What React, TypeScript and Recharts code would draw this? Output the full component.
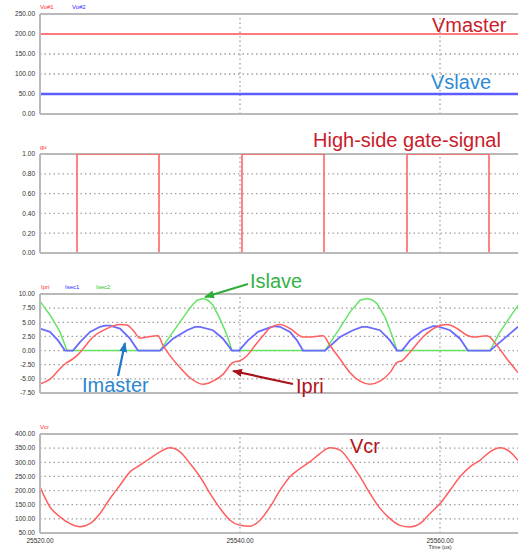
import React from 'react';
import { LineChart, Line, XAxis, YAxis, ReferenceLine } from 'recharts';

// ---------- shared time axis ----------
const timeDomain: [number, number] = [25520, 25567.8];
const timeTicks = [25520, 25540, 25560];
const timeGrid = [25540, 25560];

// ---------- panel 1: output voltages ----------
const voltTicks = [0, 50, 100, 150, 200, 250];
const vmasterT = [25520, 25567.8];
const vmasterV = [200, 200];
const vslaveT = [25520, 25567.8];
const vslaveV = [50, 50];

// ---------- panel 2: high-side gate signal ----------
const gateTicks = [0, 0.2, 0.4, 0.6, 0.8, 1.0];
const gateT = [25520, 25523.7, 25523.7, 25531.9, 25531.9, 25540.2, 25540.2, 25548.4, 25548.4, 25556.7, 25556.7, 25564.9, 25564.9, 25567.8];
const gateV = [0, 0, 1, 1, 0, 0, 1, 1, 0, 0, 1, 1, 0, 0];

// ---------- panel 3: currents ----------
const currentTicks = [-7.5, -5, -2.5, 0, 2.5, 5, 7.5, 10];
const ipriT = [25520, 25521, 25522, 25522.7, 25523, 25523.7, 25524.3, 25525.3, 25526.7, 25528, 25528.7, 25529.3, 25530, 25530.7, 25531.8, 25532.3, 25533, 25534, 25535, 25536.3, 25537.3, 25538.3, 25539.3, 25540, 25540.7, 25541.5, 25542.3, 25543, 25544, 25545, 25546.3, 25546.8, 25548.3, 25549, 25550, 25551, 25552, 25553, 25554, 25555, 25555.7, 25556.2, 25557, 25558.3, 25559.7, 25560.7, 25561.7, 25562.7, 25563.3, 25564.7, 25565.7, 25566.7, 25567.8];
const ipriV = [-5.9, -5.05, -3.2, -2.1, -1.8, -0.9, 0.3, 2.4, 3.9, 4.6, 4.5, 3.6, 2.2, 2.4, 2.6, 0.9, -0.9, -3.0, -4.8, -5.95, -5.4, -4.2, -2.1, -1.8, -0.9, 0.9, 2.6, 4.0, 4.6, 3.9, 2.4, 2.4, 2.6, 0.9, -1.5, -3.9, -5.4, -5.95, -5.4, -3.9, -2.1, -1.8, -0.3, 2.4, 4.2, 4.6, 3.9, 2.7, 2.4, 2.6, 0.9, -1.5, -3.9];
const isec1T = [25520, 25521, 25521.8, 25522.5, 25523.3, 25524, 25525, 25526, 25526.5, 25527, 25528, 25529, 25529.8, 25532, 25533.3, 25534.7, 25535.5, 25536, 25537.3, 25538.3, 25539.2, 25539.9, 25540.8, 25541.8, 25543, 25543.5, 25544, 25545, 25545.7, 25546.3, 25548.5, 25550, 25551.3, 25552.2, 25552.7, 25554, 25555, 25555.7, 25556.2, 25557, 25558.3, 25559.3, 25559.7, 25561, 25562, 25562.8, 25565, 25566, 25567, 25567.8];
const isec1V = [3.9, 3.3, 1.8, 0, 0, 1.5, 3.3, 4.2, 4.4, 4.4, 3.9, 2.1, 0, 0, 2.1, 3.6, 4.2, 4.2, 3.6, 2.1, 0, 0, 1.8, 3.3, 4.1, 4.3, 4.2, 3.3, 1.8, 0, 0, 2.4, 3.6, 4.2, 4.2, 3.6, 1.8, 0, 0, 1.8, 3.6, 4.3, 4.3, 3.6, 2.1, 0, 0, 1.5, 3.0, 4.2];
const isec2T = [25520, 25521, 25522, 25522.7, 25532, 25533.3, 25534.7, 25535.3, 25535.7, 25536.3, 25536.8, 25537.3, 25538, 25538.7, 25539.2, 25548.5, 25550, 25551, 25552, 25552.7, 25553.2, 25553.7, 25554.5, 25555.2, 25555.7, 25565, 25566, 25567, 25567.8];
const isec2V = [8.7, 6.3, 3.3, 0, 0, 3.3, 6.8, 8.2, 8.9, 9.2, 8.9, 8.0, 5.6, 2.7, 0, 0, 4.0, 6.8, 8.9, 9.2, 9.0, 8.3, 5.9, 2.7, 0, 0, 3.3, 5.9, 8.0];

// ---------- panel 4: resonant capacitor voltage ----------
const vcrTicks = [50, 100, 150, 200, 250, 300, 350, 400];
const vcrT = [25520, 25521, 25522, 25523, 25524, 25525, 25526, 25527, 25528, 25529, 25530, 25531, 25532, 25533, 25534, 25535, 25536, 25537, 25538, 25539, 25540, 25541, 25542, 25543, 25544, 25545, 25546, 25547, 25548, 25549, 25550, 25551, 25552, 25553, 25554, 25555, 25556, 25557, 25558, 25559, 25560, 25561, 25562, 25563, 25564, 25565, 25566, 25567, 25567.8];
const vcrV = [213, 142, 107, 83, 72, 83, 119, 172, 219, 266, 290, 314, 337, 351, 337, 296, 249, 190, 137, 95, 77, 74, 95, 142, 201, 249, 278, 302, 331, 351, 343, 302, 249, 190, 137, 101, 77, 71, 83, 119, 154, 201, 249, 284, 307, 337, 351, 337, 307];

const zip = (ts: number[], vs: number[]) => ts.map((t, i) => ({ t, v: vs[i] }));

const GRID = '#a0a0a0';
const BORDER = '#b9b9b9';
const FONT = '"Liberation Sans", Arial, sans-serif';

type Series = { data: { t: number; v: number }[]; color: string; width: number; type?: 'linear' | 'monotone' };

function Panel(props: {
  top: number;
  plotH: number;
  ticks: number[];
  series: Series[];
  showX?: boolean;
}) {
  const { top, plotH, ticks, series, showX } = props;
  const yMin = ticks[0];
  const yMax = ticks[ticks.length - 1];
  const xH = showX ? 20 : 0;
  const mTop = 5;
  const mBot = showX ? 0 : 5;
  return (
    <div style={{ position: 'absolute', left: 0, top: top - mTop }}>
      <LineChart width={520} height={plotH + mTop + mBot + xH} margin={{ top: mTop, right: 2, bottom: mBot, left: 0 }}>
        <XAxis
          dataKey="t"
          type="number"
          domain={timeDomain}
          allowDataOverflow
          ticks={timeTicks}
          hide={!showX}
          height={xH}
          axisLine={{ stroke: BORDER, strokeWidth: 2 }}
          tickLine={false}
          tickSize={5}
          tickMargin={0}
          tick={{ fontSize: 6.5, fill: '#333', fontFamily: FONT }}
          tickFormatter={(v: number) => v.toFixed(2)}
        />
        <YAxis
          type="number"
          domain={[yMin, yMax]}
          ticks={ticks}
          interval={0}
          allowDataOverflow
          width={40}
          axisLine={{ stroke: BORDER, strokeWidth: 2 }}
          tickLine={false}
          tickSize={5}
          tickMargin={0}
          tick={{ fontSize: 6.5, fill: '#333', fontFamily: FONT }}
          tickFormatter={(v: number) => v.toFixed(2)}
        />
        {ticks.slice(1, -1).map((y) => (
          <ReferenceLine key={'h' + y} y={y} stroke={GRID} strokeWidth={1.3} strokeDasharray="1.5 3" />
        ))}
        {timeGrid.map((x) => (
          <ReferenceLine key={'v' + x} x={x} stroke={GRID} strokeWidth={1.3} strokeDasharray="1.5 3" />
        ))}
        <ReferenceLine y={yMax} stroke={BORDER} strokeWidth={2} />
        {series.map((s, i) => (
          <Line
            key={i}
            data={s.data}
            dataKey="v"
            type={s.type || 'linear'}
            stroke={s.color}
            strokeWidth={s.width}
            dot={false}
            activeDot={false}
            isAnimationActive={false}
          />
        ))}
        {!showX && <ReferenceLine y={yMin} stroke={BORDER} strokeWidth={2} />}
      </LineChart>
    </div>
  );
}

const RED = '#ff5e5e';
const BLUE = '#6a6aff';
const GREEN = '#66e466';

export default function App() {
  return (
    <div style={{ position: 'absolute', left: 0, top: 0, width: 520, height: 551, background: '#fff', overflow: 'hidden', fontFamily: FONT }}>
      <Panel
        top={14}
        plotH={100}
        ticks={voltTicks}
        series={[
          { data: zip(vmasterT, vmasterV), color: '#ff7a7a', width: 2 },
          { data: zip(vslaveT, vslaveV), color: '#5c5cff', width: 2.5 },
        ]}
      />
      <Panel top={154} plotH={99} ticks={gateTicks} series={[{ data: zip(gateT, gateV), color: RED, width: 1.5 }]} />
      <Panel
        top={294}
        plotH={99}
        ticks={currentTicks}
        series={[
          { data: zip(isec2T, isec2V), color: GREEN, width: 1.5 },
          { data: zip(isec1T, isec1V), color: BLUE, width: 1.8 },
          { data: zip(ipriT, ipriV), color: RED, width: 1.5, type: 'monotone' },
        ]}
      />
      <Panel top={434} plotH={99} ticks={vcrTicks} showX series={[{ data: zip(vcrT, vcrV), color: RED, width: 1.5, type: 'monotone' }]} />

      <svg width={520} height={551} style={{ position: 'absolute', left: 0, top: 0, pointerEvents: 'none' }}>
        <defs>
          <marker id="ahG" markerUnits="userSpaceOnUse" markerWidth="10" markerHeight="8" refX="9" refY="4" orient="auto">
            <path d="M0,0 L10,4 L0,8 Z" fill="#2fae3a" />
          </marker>
          <marker id="ahB" markerUnits="userSpaceOnUse" markerWidth="10" markerHeight="8" refX="9" refY="4" orient="auto">
            <path d="M0,0 L10,4 L0,8 Z" fill="#1f78c8" />
          </marker>
          <marker id="ahR" markerUnits="userSpaceOnUse" markerWidth="10" markerHeight="8" refX="9" refY="4" orient="auto">
            <path d="M0,0 L10,4 L0,8 Z" fill="#a8121a" />
          </marker>
        </defs>
        {/* small legend labels */}
        <g fontSize={6} fontFamily={FONT}>
          <text x={40} y={9} fill="#ff3030">Vo#1</text>
          <text x={72} y={9} fill="#3030ff">Vo#2</text>
          <text x={40} y={149} fill="#ff3030">gu</text>
          <text x={41} y={289} fill="#ff3030">Ipri</text>
          <text x={65} y={289} fill="#3030ff">Isec1</text>
          <text x={96} y={289} fill="#22cc22">Isec2</text>
          <text x={40} y={429} fill="#ff3030">Vcr</text>
          <text x={440} y={549} fill="#333" textAnchor="middle" fontSize={5.5}>Time (us)</text>
        </g>
        {/* annotations */}
        <g fontSize={20} fontFamily={FONT}>
          <text x={432} y={31.5} fill="#c9202b">Vmaster</text>
          <text x={431} y={89} fill="#2e8bd3">Vslave</text>
          <text x={313} y={146.5} fill="#c9202b">High-side gate-signal</text>
          <text x={250} y={287.5} fill="#35b245">Islave</text>
          <text x={82} y={391.5} fill="#2d86d0">Imaster</text>
          <text x={296} y={393} fill="#b0141c">Ipri</text>
          <text x={350} y={453} fill="#b0141c">Vcr</text>
        </g>
        <line x1={248} y1={284} x2={205} y2={297} stroke="#2fae3a" strokeWidth={2.2} markerEnd="url(#ahG)" />
        <line x1={118} y1={376} x2={125} y2={343} stroke="#1f78c8" strokeWidth={2.2} markerEnd="url(#ahB)" />
        <line x1={293} y1={384} x2={233} y2={371} stroke="#a8121a" strokeWidth={2.2} markerEnd="url(#ahR)" />
      </svg>
    </div>
  );
}
